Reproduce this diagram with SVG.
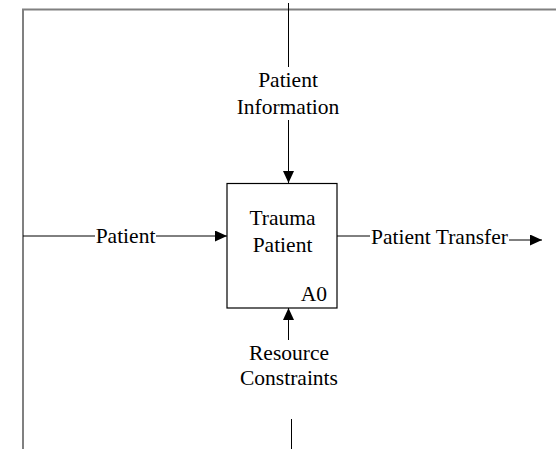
<svg xmlns="http://www.w3.org/2000/svg" width="556" height="449" viewBox="0 0 556 449">
  <style>
    .frame { stroke: #808080; stroke-width: 2; fill: none; }
    .line { stroke: #000; stroke-width: 1; fill: none; }
    .box { stroke: #000; stroke-width: 1.2; fill: #fff; }
    text { font-family: "Liberation Serif", "Times New Roman", serif; font-size: 21.5px; fill: #000; }
    .mid { text-anchor: middle; }
  </style>
  <defs>
    <marker id="arrow" viewBox="0 0 12 11" refX="12" refY="5.5" markerWidth="12" markerHeight="11" markerUnits="userSpaceOnUse" orient="auto">
      <path d="M0,0 L12,5.5 L0,11 Z" fill="#000"/>
    </marker>
  </defs>
  <rect width="556" height="449" fill="#fff"/>

  <!-- diagram frame -->
  <g id="frame">
    <path class="frame" d="M23,449 V9.5 H556"/>
  </g>

  <g id="connectors">
    <!-- control: top -->
    <line class="line" x1="288.5" y1="3" x2="288.5" y2="67"/>
    <line class="line" x1="288.5" y1="120" x2="288.5" y2="183" marker-end="url(#arrow)"/>
    <!-- input: left -->
    <line class="line" x1="23" y1="236" x2="95" y2="236"/>
    <line class="line" x1="156" y1="236" x2="227" y2="236" marker-end="url(#arrow)"/>
    <!-- output: right -->
    <line class="line" x1="337" y1="236" x2="370" y2="236"/>
    <line class="line" x1="509" y1="240" x2="542" y2="240" marker-end="url(#arrow)"/>
    <!-- mechanism: bottom -->
    <line class="line" x1="288.5" y1="340" x2="288.5" y2="308" marker-end="url(#arrow)"/>
    <line class="line" x1="291.5" y1="419" x2="291.5" y2="449"/>
  </g>

  <g id="label-patient-information">
    <text class="mid" x="288" y="87">Patient</text>
    <text class="mid" x="288" y="114">Information</text>
  </g>
  <g id="label-patient">
    <text class="mid" x="125.5" y="243">Patient</text>
  </g>
  <g id="label-patient-transfer">
    <text class="mid" x="439.5" y="244">Patient Transfer</text>
  </g>
  <g id="label-resource-constraints">
    <text class="mid" x="289" y="360">Resource</text>
    <text class="mid" x="289" y="385">Constraints</text>
  </g>

  <g id="node-a0">
    <rect class="box" x="227" y="183.5" width="110" height="124.5"/>
    <text class="mid" x="282.5" y="225">Trauma</text>
    <text class="mid" x="282.5" y="252">Patient</text>
    <text x="327" y="301" text-anchor="end">A0</text>
  </g>
</svg>
